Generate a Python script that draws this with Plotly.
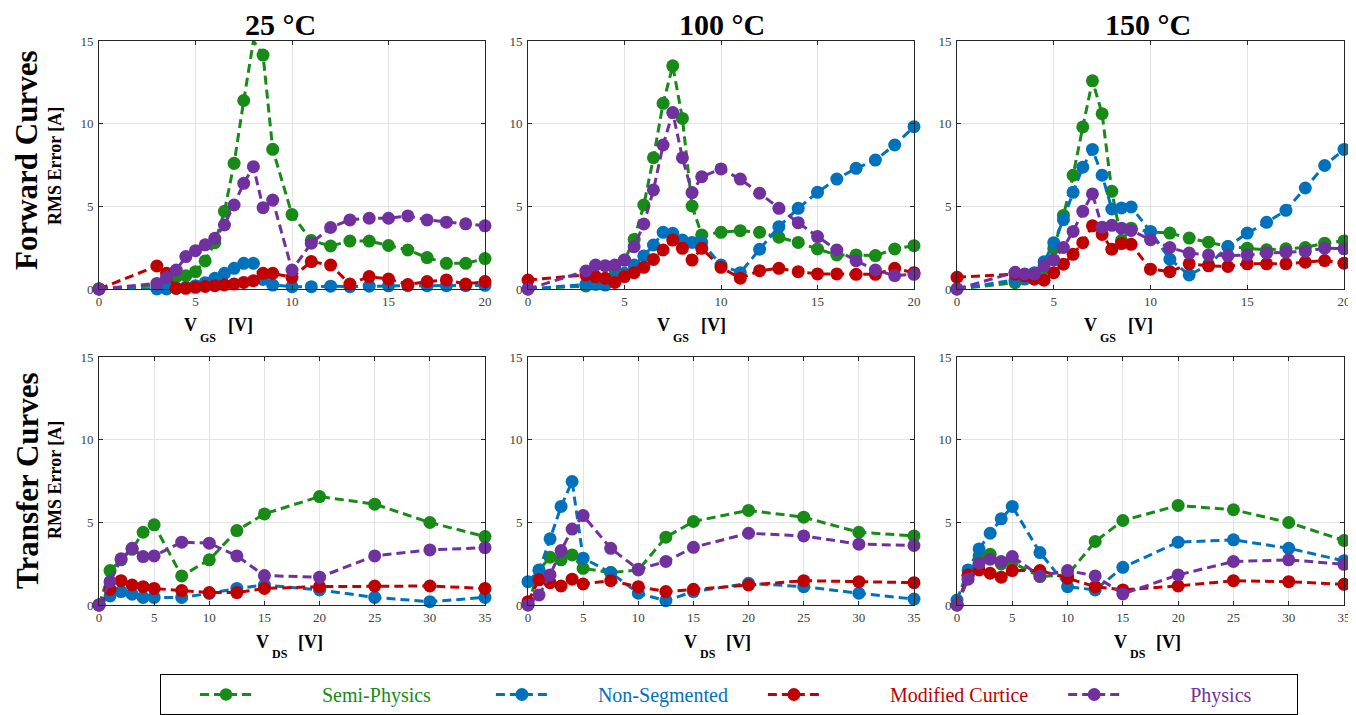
import plotly.graph_objects as go

# ---------------- data ----------------
VGS = [0, 3, 3.5, 4, 4.5, 5, 5.5, 6, 6.5, 7, 7.5, 8, 8.5, 9, 10, 11, 12, 13, 14, 15, 16, 17, 18, 19, 20]
VDS = [0, 1, 2, 3, 4, 5, 7.5, 10, 12.5, 15, 20, 25, 30, 35]

series_names = ["Semi-Physics", "Non-Segmented", "Modified Curtice", "Physics"]
temps = ["25 °C", "100 °C", "150 °C"]

# Forward curves (RMS error vs V_GS); the 25 °C Semi-Physics point at 8 V is off-scale (shown at the 15 A limit)
semi_f25 = [0, 0.2, 0.5, 0.75, 0.8, 1.05, 1.7, 2.8, 4.7, 7.6, 11.4, 15.0, 14.15, 8.45, 4.5, 2.93, 2.6, 2.9, 2.9, 2.63, 2.36, 1.9, 1.55, 1.55, 1.84]
nonseg_f25 = [0, 0, 0, 0.05, 0.1, 0.2, 0.38, 0.65, 0.95, 1.25, 1.55, 1.55, 0.58, 0.24, 0.14, 0.14, 0.17, 0.14, 0.17, 0.19, 0.2, 0.2, 0.2, 0.2, 0.22]
curt_f25 = [0, 1.39, 0.95, 0.04, 0.04, 0.1, 0.15, 0.2, 0.25, 0.3, 0.4, 0.5, 0.95, 0.95, 0.7, 1.66, 1.45, 0.3, 0.75, 0.6, 0.27, 0.45, 0.55, 0.3, 0.45]
phys_f25 = [0, 0.34, 0.7, 1.15, 1.96, 2.32, 2.67, 3.07, 3.87, 5.08, 6.39, 7.4, 4.92, 5.38, 1.15, 2.77, 3.72, 4.18, 4.28, 4.28, 4.42, 4.18, 4.04, 3.94, 3.82]

semi_f100 = [0, 0.18, 0.4, 0.6, 1.2, 1.75, 3.0, 5.08, 7.94, 11.23, 13.5, 10.32, 5.02, 3.27, 3.43, 3.53, 3.43, 3.13, 2.82, 2.42, 2.06, 2.06, 2.02, 2.42, 2.62]
nonseg_f100 = [0, 0.28, 0.28, 0.24, 0.65, 0.95, 1.45, 2.0, 2.66, 3.43, 3.37, 2.96, 2.82, 2.82, 1.45, 0.99, 2.4, 3.77, 4.88, 5.85, 6.65, 7.3, 7.8, 8.71, 9.82]
curt_f100 = [0.54, 0.85, 0.75, 0.65, 0.4, 0.75, 0.99, 1.31, 1.79, 2.36, 2.96, 2.46, 1.75, 2.46, 1.31, 0.65, 1.11, 1.25, 1.05, 0.91, 0.91, 0.89, 0.89, 1.25, 0.99]
phys_f100 = [0, 1.09, 1.45, 1.41, 1.45, 1.75, 2.56, 3.93, 5.99, 8.71, 10.67, 7.94, 5.83, 6.79, 7.26, 6.65, 5.79, 4.88, 4.01, 3.17, 2.36, 1.71, 1.15, 0.81, 0.89]

semi_f150 = [0, 0.38, 0.6, 0.75, 1.2, 2.45, 4.45, 6.88, 9.8, 12.59, 10.6, 5.91, 2.93, 3.68, 3.45, 3.38, 3.08, 2.83, 2.57, 2.47, 2.37, 2.43, 2.51, 2.77, 2.91]
nonseg_f150 = [0, 0.53, 0.65, 0.99, 1.65, 2.8, 4.19, 5.85, 7.37, 8.44, 6.88, 4.84, 4.9, 4.96, 3.48, 1.8, 0.85, 1.46, 2.57, 3.38, 4.03, 4.76, 6.11, 7.47, 8.44]
curt_f150 = [0.71, 0.9, 0.8, 0.59, 0.53, 0.99, 1.5, 2.1, 2.8, 3.82, 3.3, 2.4, 2.75, 2.7, 1.2, 1.05, 1.52, 1.4, 1.36, 1.52, 1.52, 1.52, 1.62, 1.72, 1.56]
phys_f150 = [0, 1.01, 0.91, 0.91, 1.4, 1.76, 2.51, 3.48, 4.7, 5.75, 3.74, 3.85, 3.68, 3.54, 2.98, 2.51, 2.17, 2.06, 2.02, 2.06, 2.17, 2.23, 2.27, 2.47, 2.43]

# Transfer curves (RMS error vs V_DS)
semi_t25 = [0, 2.08, 2.73, 3.37, 4.4, 4.85, 1.76, 2.73, 4.5, 5.51, 6.56, 6.1, 4.99, 4.14]
nonseg_t25 = [0, 0.55, 0.81, 0.65, 0.46, 0.46, 0.46, 0.7, 1.0, 1.21, 0.91, 0.46, 0.2, 0.46]
curt_t25 = [0, 0.95, 1.47, 1.21, 1.11, 1.0, 0.87, 0.75, 0.75, 1.0, 1.11, 1.15, 1.15, 1.0]
phys_t25 = [0, 1.41, 2.79, 3.43, 2.93, 2.97, 3.8, 3.74, 2.97, 1.78, 1.68, 2.97, 3.33, 3.47]

semi_t100 = [0, 2.12, 2.89, 2.73, 3.03, 2.22, 1.96, 2.12, 4.1, 5.05, 5.72, 5.31, 4.4, 4.18]
nonseg_t100 = [1.41, 2.08, 4.0, 5.96, 7.47, 2.83, 1.96, 0.71, 0.26, 0.81, 1.31, 1.11, 0.71, 0.36]
curt_t100 = [0.2, 1.52, 1.35, 1.15, 1.56, 1.27, 1.47, 1.11, 0.81, 0.95, 1.21, 1.47, 1.41, 1.35]
phys_t100 = [0, 0.61, 1.82, 3.29, 4.59, 5.41, 3.43, 2.16, 2.63, 3.49, 4.34, 4.18, 3.68, 3.6]

semi_t150 = [0, 1.8, 2.97, 3.07, 2.48, 2.57, 1.72, 1.82, 3.84, 5.11, 6.02, 5.76, 4.99, 3.9]
nonseg_t150 = [0.3, 2.12, 3.39, 4.34, 5.21, 5.96, 3.17, 1.11, 0.91, 2.28, 3.8, 3.94, 3.43, 2.67]
curt_t150 = [0, 1.82, 2.12, 1.92, 1.68, 2.08, 2.08, 1.62, 1.11, 0.91, 1.15, 1.47, 1.41, 1.25]
phys_t150 = [0, 1.56, 2.53, 2.77, 2.63, 2.93, 1.76, 2.08, 1.76, 0.67, 1.82, 2.63, 2.73, 2.46]

y_ticks = [0, 5, 10, 15]
x_ticks_fwd = [0, 5, 10, 15, 20]
x_ticks_tr = [0, 5, 10, 15, 20, 25, 30, 35]

# ---------------- styling ----------------
W, H = 1356, 715
OFF = 8  # page body margin: screen px -> figure px
YMAX = 15
colors = ["#178a17", "#0072BD", "#C00000", "#7030A0"]
SERIF = "Liberation Serif, Times New Roman, serif"
NB = "&nbsp;"
MSIZE = 13
lead_pad = [13, 9, 13, 13]
trail_pad = [11, 6, 6, 8]

panels = [
    (VGS, [semi_f25, nonseg_f25, curt_f25, phys_f25]),
    (VGS, [semi_f100, nonseg_f100, curt_f100, phys_f100]),
    (VGS, [semi_f150, nonseg_f150, curt_f150, phys_f150]),
    (VDS, [semi_t25, nonseg_t25, curt_t25, phys_t25]),
    (VDS, [semi_t100, nonseg_t100, curt_t100, phys_t100]),
    (VDS, [semi_t150, nonseg_t150, curt_t150, phys_t150]),
]

# screen-pixel positions of the plot areas
col_px = [(99, 485), (528, 914), (957, 1344)]
row_px = [(41, 289), (357, 605)]

def fx(sx):
    return (sx - OFF) / W

def fy(sy):
    return 1 - (sy - OFF) / H

def xdom(c):
    return [fx(col_px[c][0]), fx(col_px[c][1])]

def ydom(r):
    return [fy(row_px[r][1]), fy(row_px[r][0])]

fig = go.Figure()
for p, (xs, ys_list) in enumerate(panels):
    r, c = divmod(p, 3)
    ax = "" if p == 0 else str(p + 1)
    for s, ys in enumerate(ys_list):
        label = (NB * lead_pad[s]) + "<span style='color:%s'>%s</span>" % (colors[s], series_names[s]) + (NB * trail_pad[s])
        fig.add_trace(go.Scatter(
            x=xs, y=ys, mode="lines+markers",
            name=label,
            legendgroup=series_names[s], showlegend=(p == 0),
            line=dict(color=colors[s], width=3, dash="9px,5px"),
            marker=dict(color=colors[s], line=dict(width=0), opacity=1,
                        size=[MSIZE if v < YMAX else 0 for v in ys]),
            cliponaxis=False,
            xaxis="x" + ax, yaxis="y" + ax,
        ))
    axis_common = dict(
        showline=True, linecolor="#262626", linewidth=1, mirror="ticks",
        ticks="inside", ticklen=4, tickcolor="#262626",
        showgrid=True, gridcolor="#e3e3e3", gridwidth=1, zeroline=False,
        tickfont=dict(family=SERIF, size=13, color="#404040"),
    )
    xt = x_ticks_fwd if r == 0 else x_ticks_tr
    fig.layout["xaxis" + ax] = dict(axis_common, domain=xdom(c), range=[0, xt[-1]],
                                    tickvals=xt, anchor="y" + ax)
    fig.layout["yaxis" + ax] = dict(axis_common, domain=ydom(r), range=[0, YMAX],
                                    tickvals=y_ticks, anchor="x" + ax, ticklabelstandoff=2)

annotations = []
def px_ann(text, sx, sy, size, bold=True, angle=0, color="black"):
    annotations.append(dict(
        text=("<b>%s</b>" % text) if bold else text, x=fx(sx), y=fy(sy),
        xref="paper", yref="paper", showarrow=False, textangle=angle,
        xanchor="center", yanchor="middle",
        font=dict(family=SERIF, size=size, color=color)))

# column titles
for t, xc in zip(temps, [280, 722, 1148]):
    px_ann(t, xc, 24, 30)
# row titles
px_ann("Forward Curves", 27, 160, 31, angle=-90)
px_ann("Transfer Curves", 27, 481, 31, angle=-90)
px_ann("RMS Error [A]", 55, 166, 18, angle=-90)
px_ann("RMS Error [A]", 55, 480, 18, angle=-90)
# x-axis titles (V with lowered subscript)
for vx in [190, 663, 1090]:
    px_ann("V", vx, 325, 18)
    px_ann("GS", vx + 18, 338, 12)
    px_ann("[V]", vx + 50, 325, 18)
for vx in [262, 690, 1120]:
    px_ann("V", vx, 642, 18)
    px_ann("DS", vx + 18, 654, 12)
    px_ann("[V]", vx + 48, 642, 18)

fig.update_layout(
    width=W, height=H, margin=dict(l=0, r=0, t=0, b=0, autoexpand=False),
    paper_bgcolor="white", plot_bgcolor="white",
    annotations=annotations,
    showlegend=True,
    legend=dict(orientation="h", x=fx(160), y=fy(674), xanchor="left", yanchor="top",
                bordercolor="black", borderwidth=1, bgcolor="white",
                itemwidth=52, font=dict(family=SERIF, size=20), tracegroupgap=0,
                title=dict(text=NB * 5, side="left", font=dict(family=SERIF, size=20))),
)

fig.write_html("out.html")
